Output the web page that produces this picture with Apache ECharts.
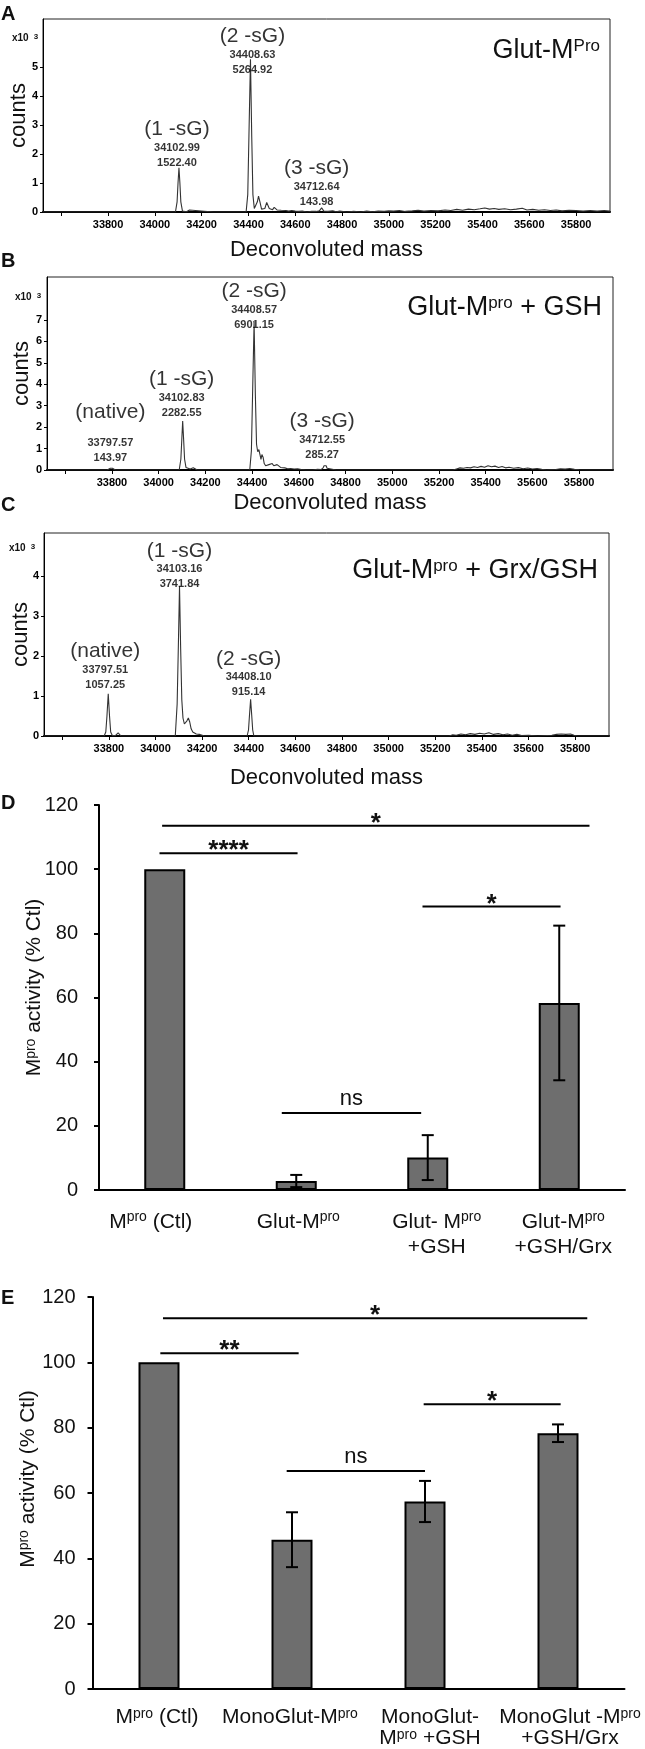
<!DOCTYPE html>
<html><head><meta charset="utf-8">
<script src="https://cdn.jsdelivr.net/npm/echarts@6/dist/echarts.min.js"></script>
<style>html,body{margin:0;padding:0;background:#fff}#c{width:645px;height:1749px}</style>
</head><body><div id="c"></div>
<script>
// ================= DATA =================
const massTicks = [33600,33800,34000,34200,34400,34600,34800,35000,35200,35400,35600,35800];
const massLabels = [33800,34000,34200,34400,34600,34800,35000,35200,35400,35600,35800];
const ticksA = [0,1,2,3,4,5];
const ticksB = [0,1,2,3,4,5,6,7];
const ticksC = [0,1,2,3,4];

// annotated peaks (mass, counts)
const peaksA = [
  {name:'(1 -sG)', mass:34102.99, counts:1522.40},
  {name:'(2 -sG)', mass:34408.63, counts:5264.92},
  {name:'(3 -sG)', mass:34712.64, counts:143.98}
];
const peaksB = [
  {name:'(native)', mass:33797.57, counts:143.97},
  {name:'(1 -sG)', mass:34102.83, counts:2282.55},
  {name:'(2 -sG)', mass:34408.57, counts:6901.15},
  {name:'(3 -sG)', mass:34712.55, counts:285.27}
];
const peaksC = [
  {name:'(native)', mass:33797.51, counts:1057.25},
  {name:'(1 -sG)', mass:34103.16, counts:3741.84},
  {name:'(2 -sG)', mass:34408.10, counts:915.14}
];

// spectrum traces (mass, counts x10^3), apexes come from the peak lists
const spectrumA = [[33522,0],[33600,0],[33700,0],[33780,0],[33792,0],[33797,0.025],[33803,0],[33900,0],[34000,0],[34088,0],[34095,0.35],[34099,1.0],
[34107,1.0],[34111,0.35],[34118,0.03],[34135,0.01],[34142,0.07],[34148,0.07],[34155,0.01],[34250,0],[34390,0],[34397,0.6],[34402,2.6],
[34414,2.6],[34419,0.6],[34425,0.12],[34432,0.08],[34438,0.35],[34443,0.55],[34449,0.35],[34456,0.1],[34463,0.07],[34470,0.12],[34478,0.33],[34483,0.33],[34489,0.12],[34496,0.06],[34503,0.08],[34510,0.16],[34516,0.16],[34522,0.07],[34530,0.04],[34540,0.06],[34548,0.04],[34560,0.05],[34572,0.03],[34585,0.05],[34600,0.03],[34615,0.02],[34630,0.03],[34650,0],[34670,0.02],[34690,0.02],[34703,0.04],[34708,0.1],
[34717,0.1],[34722,0.03],[34740,0.02],[34760,0.04],[34775,0.01],[34790,0.03],[34820,0],[34850,0.02],[34880,0],[34905,0.03],[34930,0.01],[34955,0.03],[34980,0.02],[35000,0.04],[35020,0.03],[35045,0.05],[35070,0.02],[35100,0.04],[35125,0.06],[35150,0.03],[35180,0.05],[35210,0.04],[35240,0.07],[35265,0.05],[35290,0.09],[35315,0.06],[35340,0.1],[35365,0.08],[35390,0.11],[35410,0.14],[35430,0.1],[35450,0.12],[35470,0.09],[35495,0.11],[35520,0.08],[35545,0.1],[35570,0.13],[35590,0.07],[35615,0.09],[35640,0.06],[35665,0.08],[35690,0.05],[35715,0.07],[35740,0.04],[35770,0.06],[35800,0.05],[35830,0.03],[35860,0.05],[35890,0.03],[35920,0.05],[35945,0.03]];

const spectrumB = [[33522,0],[33780,0],[33788,0.02],[33793,0.08],
[33802,0.08],[33807,0.02],[33815,0],[34000,0],[34088,0],[34095,0.5],[34099,1.4],
[34107,1.4],[34111,0.5],[34117,0.12],[34125,0.03],[34135,0.05],[34142,0.1],[34148,0.1],[34155,0.03],[34165,0],[34390,0],[34397,0.9],[34402,3.5],
[34414,3.5],[34419,1.2],[34424,0.85],[34429,0.95],[34434,0.7],[34438,0.5],[34442,0.72],[34447,0.6],[34452,0.3],[34458,0.2],[34465,0.15],[34472,0.25],[34480,0.33],[34486,0.3],[34493,0.2],[34500,0.18],[34507,0.25],[34514,0.2],[34522,0.12],[34530,0.08],[34540,0.1],[34552,0.06],[34565,0.07],[34580,0.05],[34595,0.06],[34610,0.02],[34630,0],[34660,0],[34680,0.03],[34695,0.02],[34704,0.1],[34708,0.2],
[34717,0.2],[34721,0.08],[34728,0.02],[34760,0],[34900,0],[34955,0],[34962,0.04],[34968,0],[35100,0],[35260,0],[35275,0.05],[35290,0.1],[35305,0.08],[35320,0.12],[35335,0.1],[35350,0.15],[35365,0.12],[35380,0.17],[35395,0.13],[35410,0.2],[35425,0.15],[35440,0.18],[35455,0.12],[35470,0.16],[35485,0.1],[35500,0.13],[35520,0.08],[35540,0.11],[35560,0.06],[35580,0.09],[35600,0.05],[35620,0.07],[35640,0.03],[35660,0],[35700,0.02],[35720,0.06],[35740,0.04],[35760,0.07],[35780,0.03],[35800,0.01],[35850,0],[35945,0]];

const spectrumC = [[33522,0],[33780,0],[33787,0.1],[33792,0.5],
[33803,0.5],[33808,0.1],[33815,0.01],[33828,0.01],[33835,0.06],[33840,0.08],[33845,0.05],[33852,0],[34085,0],[34093,0.8],[34098,2.2],
[34108,2.2],[34113,0.9],[34118,0.45],[34124,0.3],[34130,0.28],[34135,0.38],[34141,0.45],[34147,0.35],[34153,0.18],[34160,0.1],[34168,0.06],[34175,0.05],[34182,0.07],[34188,0.04],[34195,0.01],[34210,0],[34393,0],[34399,0.15],[34403,0.5],
[34413,0.5],[34417,0.15],[34422,0],[34478,0],[34482,0.03],[34486,0],[35260,0],[35275,0.03],[35290,0.02],[35310,0.05],[35330,0.03],[35350,0.06],[35370,0.04],[35390,0.07],[35410,0.05],[35430,0.08],[35450,0.04],[35470,0.06],[35490,0.03],[35510,0.05],[35530,0.02],[35550,0.04],[35570,0.01],[35600,0.02],[35640,0],[35700,0.02],[35720,0.04],[35740,0.05],[35760,0.04],[35780,0.05],[35795,0.02],[35810,0],[35945,0]];

// bar panels
const catD = ['M{sup|pro} (Ctl)', 'Glut-M{sup|pro}', 'Glut- M{sup|pro}\n+GSH', 'Glut-M{sup|pro}\n+GSH/Grx'];
const actD = [100, 2.8, 10.1, 58.3];
const errD = [0, 1.9, 7.0, 24.1];
// [from (category units), to (category units), level, mark]
const sigD = [[-0.04, 1.01, 105, '****'], [-0.02, 3.23, 113.5, '*'], [1.96, 3.01, 88.4, '*'], [0.89, 1.95, 24, 'ns']];

const catE = ['M{sup|pro} (Ctl)', 'MonoGlut-M{sup|pro}', 'MonoGlut-\nM{sup|pro} +GSH', 'MonoGlut -M{sup|pro}\n+GSH/Grx'];
const actE = [100, 45.7, 57.4, 78.3];
const errE = [0, 8.4, 6.3, 2.7];
const sigE = [[0.03, 3.22, 113.5, '*'], [0.01, 1.05, 102.8, '**'], [1.99, 3.02, 87.2, '*'], [0.96, 2.0, 66.7, 'ns']];

// ================= STYLE / LAYOUT =================
const FONT = "'Liberation Sans', Arial, Helvetica, sans-serif";
const INK = '#111';
const MASS_MIN = 33522, MASS_MAX = 35945;
const supRich = (fs) => ({sup: {fontSize: fs, verticalAlign: 'top', fontFamily: FONT, color: INK}});

const peakRich = {
  big: {fontSize: 21, lineHeight: 22, fontFamily: FONT, color: '#000'},
  bigT: {fontSize: 21, lineHeight: 34, verticalAlign: 'top', fontFamily: FONT, color: '#000'},
  num: {fontSize: 11, lineHeight: 15, fontWeight: 'bold', fontFamily: FONT, color: '#000'}
};
// label nudges per peak [dx, dy, bigStyle]
const labA = [[-2, 3], [2, 19], [-5, 2]];
const labB = [[-1, -1, 'bigT'], [-1, 0], [0, 11], [-3, -1]];
const labC = [[-3, -1], [0, 6], [-2, 1]];
// horizontal nudges of category labels (px)
const catShiftD = [-14, 2, 9, 4];
const catShiftE = [-2, -2, 5, 12];

function withApex(trace, peaks) {
  return trace.concat(peaks.map(p => [p.mass, p.counts / 1000])).sort((a, b) => a[0] - b[0]);
}

function massAxis(gi, nameGap) {
  return {type: 'value', gridIndex: gi, min: MASS_MIN, max: MASS_MAX,
    name: 'Deconvoluted mass', nameLocation: 'middle', nameGap: nameGap, nameMoveOverlap: false,
    nameTextStyle: {fontSize: 22, color: INK, fontFamily: FONT},
    axisLine: {show: true, onZero: false, lineStyle: {color: '#000', width: 2}},
    axisTick: {show: true, customValues: massTicks, length: 4, lineStyle: {color: '#000', width: 1}},
    axisLabel: {show: true, customValues: massLabels, fontSize: 11, fontWeight: 'bold', color: '#000', margin: 7, fontFamily: FONT, formatter: v => String(v)},
    splitLine: {show: false}};
}
function countAxis(gi, max, ticks, nameGap) {
  return {type: 'value', gridIndex: gi, min: 0, max: max,
    name: 'counts', nameLocation: 'middle', nameRotate: 90, nameGap: nameGap, nameMoveOverlap: false,
    nameTextStyle: {fontSize: 22, color: INK, fontFamily: FONT},
    axisLine: {show: true, onZero: false, lineStyle: {color: '#000', width: 1}},
    axisTick: {show: true, customValues: ticks, length: 3, lineStyle: {color: '#000', width: 1}},
    axisLabel: {show: true, customValues: ticks, fontSize: 11, fontWeight: 'bold', color: '#000', margin: 5, fontFamily: FONT},
    splitLine: {show: false}};
}
function spectrumSeries(gi, trace, peaks) {
  return {type: 'line', xAxisIndex: gi, yAxisIndex: gi, data: withApex(trace, peaks),
    showSymbol: false, symbol: 'none', silent: true, z: 3,
    lineStyle: {color: '#333', width: 1.1}};
}
function peakLabelSeries(gi, peaks, nudges) {
  return {type: 'scatter', xAxisIndex: gi, yAxisIndex: gi, symbolSize: 1, silent: true, z: 6,
    itemStyle: {color: 'rgba(0,0,0,0)'},
    data: peaks.map((p, i) => ({value: [p.mass, p.counts / 1000], label: {offset: [nudges[i][0], nudges[i][1]]}})),
    label: {show: true, position: 'top', distance: 0, rich: peakRich,
      formatter: prm => {
        const p = peaks[prm.dataIndex];
        const b = nudges[prm.dataIndex][2] || 'big';
        return '{' + b + '|' + p.name + '}\n{num|' + p.mass.toFixed(2) + '}\n{num|' + p.counts.toFixed(2) + '}';
      }}};
}

function barCatAxis(gi, cats, shifts, margin, lh) {
  return {type: 'category', gridIndex: gi,
    data: cats.map((c, i) => ({value: c, textStyle: {padding: shifts[i] >= 0 ? [0, 0, 0, 2 * shifts[i]] : [0, -2 * shifts[i], 0, 0]}})),
    axisLine: {show: true, onZero: false, lineStyle: {color: '#000', width: 2}},
    axisTick: {show: false},
    axisLabel: {interval: 0, fontSize: 21, lineHeight: lh, margin: margin, color: INK, fontFamily: FONT, rich: supRich(14)}};
}
function activityAxis(gi, margin, nameGap, shift) {
  return {type: 'value', gridIndex: gi, min: 0, max: 120, interval: 20, position: 'left',
    axisLine: {show: true, onZero: false, lineStyle: {color: '#000', width: 2}},
    axisTick: {show: true, length: 5, lineStyle: {color: '#000', width: 2}},
    axisLabel: {fontSize: 20, margin: margin, color: INK, fontFamily: FONT},
    splitLine: {show: false},
    name: 'M{sup|pro} activity (% Ctl)', nameLocation: 'middle', nameRotate: 90, nameGap: nameGap, nameMoveOverlap: false,
    nameTextStyle: {fontSize: 21, color: INK, fontFamily: FONT, padding: [0, 0, 0, shift], rich: supRich(14)}};
}
function errRender(params, api) {
  const i = api.value(0), m = api.value(1), e = api.value(2);
  if (!e) return null;
  const t = api.coord([i, m + e]), b = api.coord([i, m - e]);
  const w = 6, st = {stroke: '#000', lineWidth: 2};
  return {type: 'group', children: [
    {type: 'line', shape: {x1: t[0], y1: t[1], x2: b[0], y2: b[1]}, style: st},
    {type: 'line', shape: {x1: t[0] - w, y1: t[1], x2: t[0] + w, y2: t[1]}, style: st},
    {type: 'line', shape: {x1: b[0] - w, y1: b[1], x2: b[0] + w, y2: b[1]}, style: st}
  ]};
}
// brackets: positions in category units converted via two category centres
function sigRenderFor(sig) {
  return function (params, api) {
    const s = sig[params.dataIndex];
    const y = api.value(1);
    const c0 = api.coord([0, y]), c1 = api.coord([1, y]);
    const band = c1[0] - c0[0];
    const x1 = c0[0] + s[0] * band, x2 = c0[0] + s[1] * band, py = c0[1];
    const star = s[3].indexOf('*') >= 0;
    return {type: 'group', children: [
      {type: 'line', shape: {x1: x1, y1: py, x2: x2, y2: py}, style: {stroke: '#000', lineWidth: 2}},
      {type: 'text', x: (x1 + x2) / 2, y: py + (star ? -2 : -14),
        style: {text: s[3], fill: INK, fontFamily: FONT, fontSize: star ? 26 : 22, fontWeight: star ? 'bold' : 'normal', align: 'center', verticalAlign: 'middle'}}
    ]};
  };
}
function barSeries(xi, yi, vals) {
  return {type: 'bar', xAxisIndex: xi, yAxisIndex: yi, data: vals, barWidth: 41, silent: true, z: 2,
    itemStyle: {color: '#6e6e6e', borderColor: '#000', borderWidth: 2}};
}
function errSeries(xi, yi, vals, errs) {
  return {type: 'custom', xAxisIndex: xi, yAxisIndex: yi, silent: true, z: 5,
    data: vals.map((v, i) => [i, v, errs[i]]), encode: {x: 0, y: 1}, renderItem: errRender};
}
function sigSeries(xi, yi, sig) {
  return {type: 'custom', xAxisIndex: xi, yAxisIndex: yi, silent: true, z: 5,
    data: sig.map(s => [0, s[2]]), encode: {x: 0, y: 1}, renderItem: sigRenderFor(sig)};
}
function txt(x, y, text, extra) {
  return {type: 'text', x: x, y: y, silent: true, z: 10,
    style: Object.assign({text: text, fill: INK, fontFamily: FONT, verticalAlign: 'middle'}, extra)};
}

const gridBase = {show: true, borderColor: '#222', borderWidth: 1, containLabel: false, outerBoundsMode: 'none'};
const plainGrid = {show: false, containLabel: false, outerBoundsMode: 'none'};

const titleRich = {sup: {fontSize: 17, verticalAlign: 'top', fontFamily: FONT, fill: INK, color: INK}};
const expRich = {s: {fontSize: 8, fontWeight: 'bold', verticalAlign: 'top', padding: [0, 0, 0, 5], fontFamily: FONT, fill: INK, color: INK}};

const option = {
  animation: false,
  backgroundColor: '#fff',
  textStyle: {fontFamily: FONT, color: INK},
  grid: [
    Object.assign({left: 43, top: 19, width: 567, height: 193}, gridBase),
    Object.assign({left: 47, top: 277, width: 566, height: 193}, gridBase),
    Object.assign({left: 44, top: 533, width: 565, height: 203}, gridBase),
    Object.assign({left: 99, top: 805, width: 526, height: 385}, plainGrid),
    Object.assign({left: 92.5, top: 1297, width: 532, height: 392}, plainGrid)
  ],
  xAxis: [
    massAxis(0, 27), massAxis(1, 22), massAxis(2, 31),
    barCatAxis(3, catD, catShiftD, 20, 25),
    barCatAxis(4, catE, catShiftE, 18, 21)
  ],
  yAxis: [
    countAxis(0, 6.65, ticksA, 13), countAxis(1, 9.0, ticksB, 14), countAxis(2, 5.075, ticksC, 12),
    activityAxis(3, 21, 54, 20), activityAxis(4, 17, 54, 28)
  ],
  series: [
    spectrumSeries(0, spectrumA, peaksA), peakLabelSeries(0, peaksA, labA),
    spectrumSeries(1, spectrumB, peaksB), peakLabelSeries(1, peaksB, labB),
    spectrumSeries(2, spectrumC, peaksC), peakLabelSeries(2, peaksC, labC),
    barSeries(3, 3, actD), errSeries(3, 3, actD, errD), sigSeries(3, 3, sigD),
    barSeries(4, 4, actE), errSeries(4, 4, actE, errE), sigSeries(4, 4, sigE)
  ],
  graphic: [
    txt(1, 14, 'A', {fontSize: 20, fontWeight: 'bold'}),
    txt(1, 261, 'B', {fontSize: 20, fontWeight: 'bold'}),
    txt(1, 505, 'C', {fontSize: 20, fontWeight: 'bold'}),
    txt(1, 803, 'D', {fontSize: 20, fontWeight: 'bold'}),
    txt(1, 1298, 'E', {fontSize: 20, fontWeight: 'bold'}),
    txt(12, 38, 'x10{s|3}', {fontSize: 10, fontWeight: 'bold', rich: expRich}),
    txt(15, 297, 'x10{s|3}', {fontSize: 10, fontWeight: 'bold', rich: expRich}),
    txt(9, 548, 'x10{s|3}', {fontSize: 10, fontWeight: 'bold', rich: expRich}),
    txt(600, 51, 'Glut-M{sup|Pro}', {fontSize: 27, align: 'right', rich: titleRich}),
    txt(602, 308, 'Glut-M{sup|pro} + GSH', {fontSize: 27, align: 'right', rich: titleRich}),
    txt(598, 571, 'Glut-M{sup|pro} + Grx/GSH', {fontSize: 27, align: 'right', rich: titleRich})
  ]
};

const chart = echarts.init(document.getElementById('c'), null, {renderer: 'canvas', width: 645, height: 1749});
chart.setOption(option);
</script>
</body></html>
